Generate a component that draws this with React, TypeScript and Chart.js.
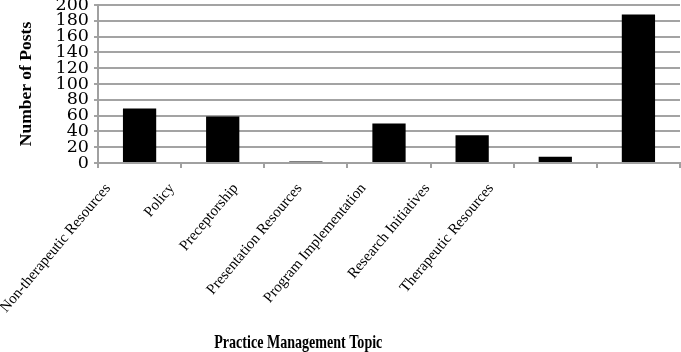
import React, { useEffect, useRef } from "react";
import { Chart, registerables } from "chart.js";

Chart.register(...registerables);

const categories = [
  "Non-therapeutic Resources",
  "Policy",
  "Preceptorship",
  "Presentation Resources",
  "Program Implementation",
  "Research Initiatives",
  "Therapeutic Resources",
];
const posts = [69, 59, 2, 50, 35, 8, 188];
const yTitle = "Number of Posts";
const xTitle = "Practice Management Topic";

const FONT = "'Liberation Serif', 'DejaVu Serif', serif";
const TICK_FONT = "'DejaVu Serif', 'Liberation Serif', serif";

export default function App() {
  const ref = useRef<HTMLCanvasElement>(null);
  useEffect(() => {
    document.body.style.margin = "0";
    const bottomTitle = {
      id: "bottomTitle",
      afterDraw(chart: any) {
        const ctx = chart.ctx;
        ctx.save();
        ctx.font = `bold 19px ${FONT}`;
        ctx.fillStyle = "#000";
        ctx.textAlign = "center";
        ctx.textBaseline = "middle";
        ctx.translate(chart.width * 0.438, chart.height - 9);
        ctx.scale(0.74, 1);
        ctx.fillText(xTitle, 0, 0);
        ctx.restore();
      },
    };
    // The label axis in the reference is drawn narrower than the plot: its labels
    // sit left of the bars. Shrink the label axis after layout.
    const labelAxisSqueeze = {
      id: "labelAxisSqueeze",
      afterLayout(chart: any) {
        const s = chart.scales.x2;
        const area = chart.chartArea;
        const w = area.right - area.left;
        s.left = area.left - 22;
        s.width = w * 0.768;
        s.right = s.left + s.width;
        s.configure();
      },
    };
    const chart = new Chart(ref.current!, {
      type: "bar",
      data: {
        labels: categories,
        datasets: [
          {
            data: posts,
            backgroundColor: "#000",
            borderWidth: 0,
            barPercentage: 0.4,
            categoryPercentage: 1,
          },
        ],
      },
      options: {
        animation: false,
        responsive: false,
        maintainAspectRatio: false,
        layout: { padding: { top: 5, right: 1, bottom: 0, left: 0 } },
        plugins: { legend: { display: false }, tooltip: { enabled: false } },
        scales: {
          x: {
            weight: 0,
            afterFit: (s: any) => {
              s.height = 6;
              s.paddingLeft = 0;
              s.paddingRight = 0;
            },
            grid: {
              offset: true,
              drawOnChartArea: false,
              drawTicks: true,
              tickLength: 5,
              color: "#a0a0a0",
              lineWidth: 2,
            },
            border: { color: "#a0a0a0", width: 2 },
            ticks: { display: false },
          },
          x2: {
            type: "category",
            position: "bottom",
            weight: 1,
            labels: categories,
            afterFit: (s: any) => {
              s.height = 183;
              s.paddingLeft = 0;
              s.paddingRight = 0;
            },
            grid: { display: false },
            border: { display: false },
            ticks: {
              color: "#000",
              font: { family: FONT, size: 15 },
              minRotation: 50,
              maxRotation: 50,
              autoSkip: false,
              padding: 3,
            },
          },
          y: {
            min: 0,
            max: 200,
            afterFit: (s: any) => {
              s.width = 98;
              s.paddingTop = 0;
              s.paddingBottom = 0;
            },
            ticks: {
              stepSize: 20,
              autoSkip: false,
              color: "#000",
              font: { family: TICK_FONT, size: 17.5 },
              padding: 5,
            },
            grid: { color: "#a3a3a3", lineWidth: 2, tickLength: 4 },
            border: { color: "#a0a0a0", width: 2 },
            title: {
              display: true,
              text: yTitle,
              color: "#000",
              font: { family: FONT, size: 17.5, weight: "bold" },
              padding: { top: 16, bottom: 0 },
            },
          },
        },
      },
      plugins: [labelAxisSqueeze, bottomTitle],
    });
    return () => chart.destroy();
  }, []);
  return (
    <div style={{ position: "absolute", left: 0, top: 0, width: 681, height: 352, background: "#fff" }}>
      <canvas ref={ref} width={681} height={352} />
    </div>
  );
}
